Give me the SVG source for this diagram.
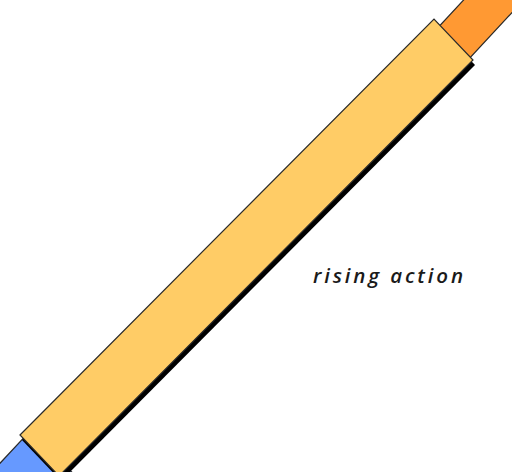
<svg xmlns="http://www.w3.org/2000/svg" width="512" height="472" viewBox="0 0 512 472">
  <style>
    .bar { stroke: #2a2a2a; stroke-width: 1.2; stroke-linejoin: miter; }
    .shadow { fill: #000000; }
    .label { font-family: "Open Sans", "Noto Sans", sans-serif; font-style: italic; font-weight: 600; font-size: 20.5px; fill: #1a1a1a; }
  </style>
  <rect width="512" height="472" fill="#ffffff"/>
  <g id="exposition">
    <polygon class="bar" fill="#6699FF" points="-50,517 30,431 90,490 40,560"/>
  </g>
  <g id="climax">
    <polygon class="bar" fill="#FF9933" points="420,47 510,-50 570,-50 455,74"/>
  </g>
  <g id="rising-action">
    <polygon class="shadow" points="22,440 436,24 475,65 61,481"/>
    <polygon class="bar" fill="#FFCC66" points="20,435 434,19 473,60 59,476"/>
  </g>
  <g id="connectors"></g>
  <text class="label" x="313" y="283" textLength="150" lengthAdjust="spacing">rising action</text>
</svg>
